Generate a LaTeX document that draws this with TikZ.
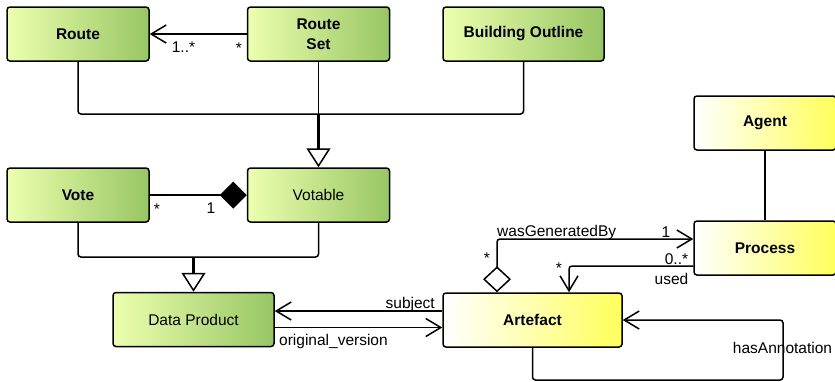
\documentclass[tikz,border=0pt]{standalone}
\usepackage{fontspec}
\setmainfont{Liberation Sans}
\usetikzlibrary{arrows.meta}
\definecolor{greenL}{HTML}{ECFFAE}
\definecolor{greenR}{HTML}{98C664}
\definecolor{yellowR}{HTML}{FFFF5A}
\newcommand{\fs}{\fontsize{15.5}{20}\selectfont}
\tikzset{ cls/.style = { rectangle % class box
, rounded corners = 3pt
, draw
, line width = 1.5pt
, minimum width = 142pt
, minimum height = 54pt
, align = center
, font = \fs\bfseries
}
, grn/.style = { left color = greenL % green class
, right color = greenR
}
, ylw/.style = { left color = white % provenance class
, right color = yellowR
}
, lnk/.style = { line width = 1.5pt % connector
, rounded corners = 3pt
}
, nav/.style = { -{Straight Barb[length=15pt, width=18pt, line width=1.5pt]}
}
, gen/.style = { -{Triangle[open, fill=white, length=19pt, width=24pt, line width=1.5pt]}
, line width = 2.4pt
}
, lbl/.style = { inner sep = 0pt % multiplicity / role
, anchor = base
, font = \fs
}
}

\begin{document}
\begin{tikzpicture}[x=1pt, y=-1pt]
                    \useasboundingbox (0,0) rectangle (835,381);
                    \clip (0,0) rectangle (835,381);

                    \node[cls,grn] (route) at (78,34) {Route};
                    \node[cls,grn] (routeset) at (318.5,34) {Route\\Set};
                    \node[cls,grn,minimum width=161pt] (outline) at (523.5,34) {Building Outline};
                    \node[cls,grn] (vote) at (78,195) {Vote};
                    \node[cls,grn,font=\fs\mdseries] (votable) at (318.5,195) {Votable};
                    \node[cls,grn,minimum width=161pt,font=\fs\mdseries] (dataprod) at (193.5,319.5) {Data Product};
                    \node[cls,ylw] (agent) at (765,123) {Agent};
                    \node[cls,ylw] (process) at (765,248) {Process};
                    \node[cls,ylw,minimum width=179pt] (artefact) at (532.5,320) {Artefact};

                    \coordinate (junc1) at (318.5,114);
                    \coordinate (junc2) at (193.5,257);

                    \draw[lnk,nav] (routeset.west) -- (route.east);
                    \node[lbl] (m1) at (183.5,52) {1..*};
                    \node[lbl] (m2) at (239,53) {*};

                    \draw[lnk] (route.south) |- (junc1) -| (outline.south);
                    \draw[lnk] (routeset.south) -- (junc1);
                    \draw[lnk,gen] (junc1) -- (votable.north);

                    \draw[lnk,{Diamond[length=27pt, width=27pt]}-] (votable.west) -- (vote.east);
                    \node[lbl] (m3) at (157,214) {*};
                    \node[lbl] (m4) at (211,213) {1};

                    \draw[lnk] (vote.south) |- (junc2) -| (votable.south);
                    \draw[lnk,gen] (junc2) -- (dataprod.north);

                    \draw[lnk,nav] ([yshift=9pt]artefact.west) -- ([yshift=9pt]artefact.west -| dataprod.east);
                    \node[lbl,anchor=base east] (subj) at (435,308) {subject};
                    \draw[lnk,nav] ([yshift=-8pt]dataprod.east) -- ([yshift=-8pt]dataprod.east -| artefact.west);
                    \node[lbl,anchor=base west] (orig) at (279,345) {original\_version};

                    \draw[lnk,{Diamond[open, fill=white, length=26pt, width=28pt, line width=1.5pt]}-{Straight Barb[length=15pt, width=18pt, line width=1.5pt]}]
                        ([xshift=-35.5pt]artefact.north) |- ([yshift=9pt]process.west);
                    \node[lbl,anchor=base west] (gen) at (497,236) {wasGeneratedBy};
                    \node[lbl] (m5) at (666,237) {1};
                    \node[lbl] (m6) at (487,263) {*};

                    \draw[lnk,nav] ([yshift=-18pt]process.west) -| ([xshift=36.5pt]artefact.north);
                    \node[lbl] (m7) at (676.5,264) {0..*};
                    \node[lbl] (used) at (671.5,284) {used};
                    \node[lbl] (m8) at (559,273) {*};

                    \draw[lnk] (agent) -- (process);

                    \draw[lnk,nav] (artefact.south) |- (783,380) |- (artefact.east);
                    \node[lbl] (annot) at (782.5,353) {hasAnnotation};
                \end{tikzpicture}
\end{document}
